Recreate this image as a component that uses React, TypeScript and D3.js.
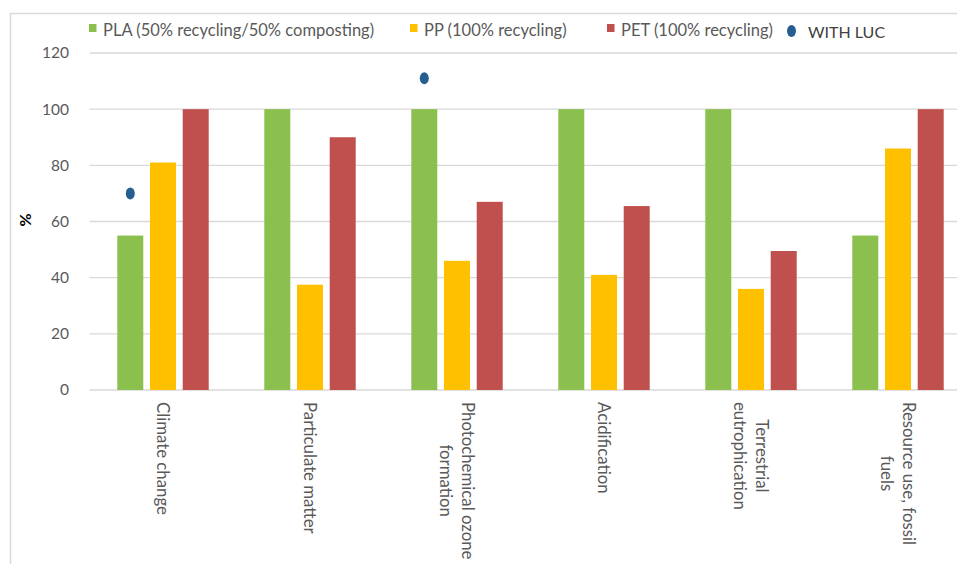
import React from "react";
import * as d3 from "d3";

const categories = [
  ["Climate change"],
  ["Particulate matter"],
  ["Photochemical ozone", "formation"],
  ["Acidification"],
  ["Terrestrial", "eutrophication"],
  ["Resource use, fossil", "fuels"],
];
const seriesNames = [
  "PLA (50% recycling/50% composting)",
  "PP (100% recycling)",
  "PET (100% recycling)",
];
const plaValues = [55, 100, 100, 100, 100, 55];
const ppValues = [81, 37.5, 46, 41, 36, 86];
const petValues = [100, 90, 67, 65.5, 49.5, 100];
const lucValues: (number | null)[] = [70, null, 111, null, null, null];
const lucName = "WITH LUC";
const yTicks = [0, 20, 40, 60, 80, 100, 120];
const colors = ["#8CC04E", "#FFC000", "#C0504D"];
const dotColor = "#255E91";

const W = 957;
const H = 564;
const FONT = "Lato, 'Open Sans', sans-serif";

function measure(text: string, size: number) {
  const c = document.createElement("canvas").getContext("2d");
  if (!c) return text.length * size * 0.5;
  c.font = `${size}px Lato`;
  return c.measureText(text).width;
}

export default function App() {
  const left = 89.5;
  const right = 971.5;
  const top = 53;
  const bottom = 390;
  const keys = categories.map((c) => c.join(" "));
  const x0 = d3.scaleBand<string>().domain(keys).range([left, right]).paddingInner(0.378).paddingOuter(0.189);
  const x1 = d3.scaleBand<number>().domain([0, 1, 2]).range([0, x0.bandwidth()]).paddingInner(0.205).paddingOuter(0);
  const y = d3.scaleLinear().domain([0, 120]).range([bottom, top]);
  const series = [plaValues, ppValues, petValues];
  const xFont = 16.8;

  const legendItems = [
    { x: 89, label: seriesNames[0], color: colors[0] },
    { x: 410, label: seriesNames[1], color: colors[1] },
    { x: 607, label: seriesNames[2], color: colors[2] },
  ];

  return (
    <svg width={W} height={H} style={{ position: "absolute", left: 0, top: 0, background: "#fff" }} fontFamily={FONT}>
      <rect x={0} y={0} width={W} height={H} fill="#fff" />
      {/* frame */}
      <path d={`M10.5,${H + 5} V13.5 H${W + 5}`} fill="none" stroke="#D9D9D9" strokeWidth={1.5} />
      {/* gridlines */}
      {yTicks.map((t) => (
        <line key={t} x1={left} x2={right} y1={y(t)} y2={y(t)} stroke="#D9D9D9" strokeWidth={1.3} />
      ))}
      {/* y tick labels */}
      {yTicks.map((t) => (
        <text key={"l" + t} x={69} y={y(t)} dy="0.35em" textAnchor="end" fontSize={15.5} fill="#595959">
          {t}
        </text>
      ))}
      <text transform={`translate(31,220) rotate(-90)`} textAnchor="middle" fontSize={16} fontWeight="bold" fill="#000">
        %
      </text>
      {/* bars */}
      {keys.map((k, i) => (
        <g key={k} transform={`translate(${x0(k)},0)`}>
          {series.map((s, j) => (
            <rect key={j} x={x1(j)} y={y(s[i])} width={x1.bandwidth()} height={y(0) - y(s[i])} fill={colors[j]} />
          ))}
        </g>
      ))}
      {/* LUC dots */}
      {keys.map((k, i) =>
        lucValues[i] == null ? null : (
          <ellipse
            key={"d" + k}
            cx={(x0(k) as number) + (x1(0) as number) + x1.bandwidth() / 2}
            cy={y(lucValues[i] as number)}
            rx={4.5}
            ry={6}
            fill={dotColor}
          />
        )
      )}
      {/* x labels */}
      {categories.map((lines, i) => {
        const cx = (x0(keys[i]) as number) + x0.bandwidth() / 2;
        const maxLen = Math.max(...lines.map((l) => measure(l, xFont)));
        const cy = 402 + maxLen / 2;
        const lh = 22;
        return (
          <g key={"x" + i} transform={`translate(${cx},${cy}) rotate(90)`}>
            {lines.map((l, li) => (
              <text
                key={li}
                x={0}
                y={(li - (lines.length - 1) / 2) * lh}
                dy="0.35em"
                textAnchor="middle"
                fontSize={xFont}
                fill="#595959"
              >
                {l}
              </text>
            ))}
          </g>
        );
      })}
      {/* legend */}
      {legendItems.map((it) => (
        <g key={it.label}>
          <rect x={it.x} y={24} width={7.5} height={8} fill={it.color} />
          <text x={it.x + 14} y={30} dy="0.35em" fontSize={16.5} fill="#595959">
            {it.label}
          </text>
        </g>
      ))}
      <ellipse cx={791.5} cy={31} rx={4.5} ry={6} fill={dotColor} />
      <text x={808} y={32} dy="0.35em" fontSize={16} fill="#404040">
        {lucName}
      </text>
    </svg>
  );
}
